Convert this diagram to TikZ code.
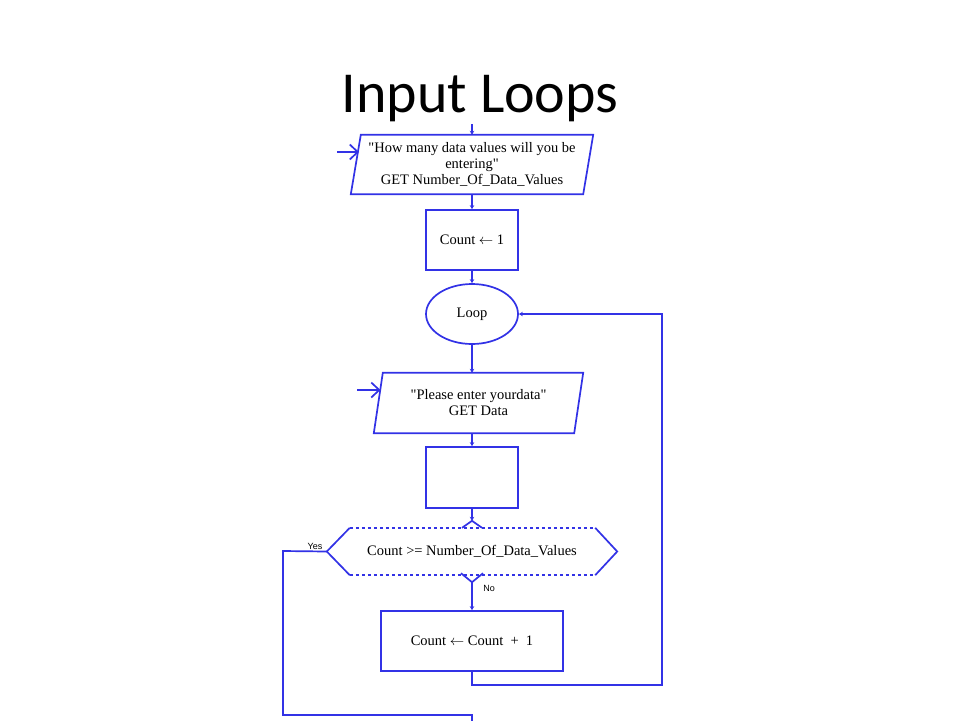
\documentclass[tikz,border=0pt]{standalone}
\usepackage{fontspec}
\setmainfont{Liberation Serif}[Ligatures=TeXOff]
\newfontfamily\titlefont{Carlito}
\newfontfamily\lblfont{Liberation Sans}
\usetikzlibrary{calc,arrows.meta,shapes.geometric}
\definecolor{fc}{RGB}{50,50,230}
\begin{document}
\begin{tikzpicture}[x=1pt,y=-1pt,
  ln/.style={draw=fc,line width=1.7pt},
  dln/.style={draw=fc,line width=1.5pt,dash pattern=on 3pt off 3pt},
  arr/.style={ln,-{Stealth[length=4pt,width=4.5pt]}},
  barb/.style={ln,-{Straight Barb[length=8pt,width=15pt]}},
  txt/.style={inner sep=0pt,align=center,font=\fontsize{14.5}{16}\selectfont},
  boxn/.style={txt,draw=fc,line width=1.7pt,minimum width=92pt,minimum height=60pt},
  lbl/.style={inner sep=0pt,font=\lblfont\fontsize{9}{10}\selectfont}]
\useasboundingbox (0,0) rectangle (960,720);
\fill[white] (0,0) rectangle (960,720);
% title
\node[anchor=base,inner sep=0pt,font=\titlefont\fontsize{58}{60}\selectfont] (title) at (480,112) {Input Loops};
% parallelogram 1
\node[txt,minimum width=232pt,minimum height=59pt] (p1) at (472,164.5) {"How many data values will you be\\entering"\\GET Number\_Of\_Data\_Values};
\draw[ln] ($(p1.north west)+(5,0)$) -- ($(p1.north east)+(5,0)$) -- ($(p1.south east)+(-5,0)$) -- ($(p1.south west)+(-5,0)$) -- cycle;
% rect 1
\node[boxn] (r1) at (472,240) {Count $\leftarrow$ 1};
% ellipse
\node[txt,draw=fc,line width=1.7pt,ellipse,minimum width=92pt,minimum height=60pt] (ell) at (472,314) {Loop};
% parallelogram 2
\node[txt,minimum width=200pt,minimum height=60pt] (p2) at (478.5,403) {"Please enter yourdata"\\GET Data};
\draw[ln] ($(p2.north west)+(4.5,0)$) -- ($(p2.north east)+(4.5,0)$) -- ($(p2.south east)+(-4.5,0)$) -- ($(p2.south west)+(-4.5,0)$) -- cycle;
% rect 3 (empty)
\node[boxn,minimum height=61pt] (r3) at (472,477.5) {};
% hexagon
\node[txt,minimum width=290pt,minimum height=47pt] (hx) at (472,551.5) {Count >= Number\_Of\_Data\_Values};
\draw[ln] ($(hx.north west)+(23,0)$) -- (hx.west) -- ($(hx.south west)+(23,0)$);
\draw[ln] ($(hx.north east)+(-22,0)$) -- (hx.east) -- ($(hx.south east)+(-22,0)$);
\draw[dln] ($(hx.north west)+(23,0)$) -- ($(hx.north east)+(-22,0)$);
\draw[dln] ($(hx.south west)+(23,0)$) -- ($(hx.south east)+(-22,0)$);
\coordinate (hxt) at ($(hx.north)+(0,-7)$);
\coordinate (hxb) at ($(hx.south)+(0,7)$);
\draw[ln] ($(hx.north)+(-10,0)$) -- (hxt) -- ($(hx.north)+(10,0)$);
\draw[ln] ($(hx.south)+(-11,-2)$) -- (hxb) -- ($(hx.south)+(11,-2)$);
% rect 4
\node[boxn,minimum width=182pt] (r4) at (472,641) {Count $\leftarrow$ Count \ + \ 1};
% labels
\node[lbl] (yes) at (315,546) {Yes};
\node[lbl] (no) at (489,588) {No};
% coordinates
\coordinate (top) at (472,124);
\coordinate (in1) at (337,152);
\coordinate (in1e) at (359,152);
\coordinate (in2) at (357,390);
\coordinate (in2e) at (380.5,390);
\coordinate (lpb) at (472,685);
\coordinate (lpr) at (662,685);
\coordinate (lpt) at (662,314);
\coordinate (yl) at (283,551);
\coordinate (yb) at (283,715);
\coordinate (yr) at (472,715);
\coordinate (yend) at (472,724);
% connectors
\draw[arr] (top) -- (p1.north);
\draw[barb] (in1) -- (in1e);
\draw[barb] (in2) -- (in2e);
\draw[arr] (p1.south) -- (r1.north);
\draw[arr] (r1.south) -- (ell.north);
\draw[arr] (ell.south) -- (ell.south |- p2.north);
\draw[arr] (p2.south -| r3.north) -- (r3.north);
\draw[arr] (r3.south) -- (hxt);
\draw[arr] (hxb) -- (r4.north);
\draw[arr] (r4.south) -- (lpb) -- (lpr) -- (lpt) -- (ell.east);
\draw[ln] (hx.west) -- (yl) -- (yb) -- (yr) -- (yend);
\end{tikzpicture}
\end{document}
